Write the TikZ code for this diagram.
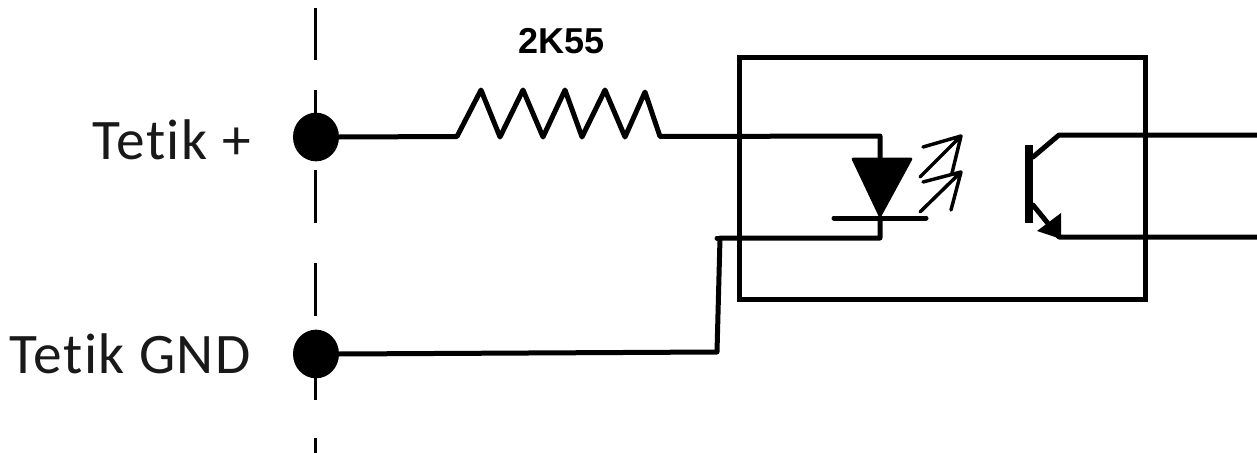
\documentclass[tikz,border=0pt]{standalone}
\usepackage{fontspec}
\setmainfont{Carlito}[Ligatures=NoCommon,LetterSpace=2.6]
\newfontfamily\arialb{Liberation Sans}[Scale=1]
\usetikzlibrary{shapes.geometric}
\tikzset{
  wire/.style={line width=3.75pt,line join=round,line cap=round,black},
  thinw/.style={line width=2.6pt,line join=round,line cap=round},
  dashw/.style={line width=2.6pt},
  term/.style={ellipse,fill=black,minimum width=34.5pt,minimum height=36.5pt,inner sep=0pt},
  lab/.style={font=\fontsize{43pt}{43pt}\selectfont,text=black!90,anchor=base east,inner sep=0pt}
}
\begin{document}
\begin{tikzpicture}[x=0.75pt,y=-0.75pt]
\useasboundingbox (0,0) rectangle (1257,453);
\draw[dashw] (315.5,8)--(315.5,60) (315.5,90)--(315.5,120) (315.5,170)--(315.5,223) (315.5,263)--(315.5,316) (315.5,340)--(315.5,400) (315.5,438)--(315.5,453);
\node[term] (tp) at (316,137) {};
\node[term] (tg) at (316,354) {};
\coordinate (r0) at (457,136.5);
\coordinate (r1) at (660,136.5);
\coordinate (wt) at (880,136);
\coordinate (dk) at (880,218);
\coordinate (a1) at (880,238);
\coordinate (a2) at (720,238);
\coordinate (a3) at (717,352);
\coordinate (ce) at (1257,135);
\coordinate (ee) at (1257,237);
\draw[wire] (tp.east) -- (r0) -- (481,90) -- (500,137) -- (523,90) -- (543,137) -- (565,90) -- (582,137) -- (605,90) -- (625,137) -- (645,92) -- (r1) -- (wt) -- (880,158);
\draw[wire] (tg.east) -- (a3) -- (a2) -- (a1) -- (dk);
\draw[wire] (a2) -- (717,238);
\node[draw=black,line width=3.75pt,minimum width=305pt,minimum height=181pt,inner sep=0pt] (box) at (942.5,178.5) {};
\fill[black,draw=black,line width=2pt,line join=round] (853,159) -- (911,159) -- (880,216) -- cycle;
\draw[wire] (834,218) -- (926,218);
\draw[thinw] (920,177) -- (961,136) (923,147) -- (961,136) -- (952,173);
\draw[thinw] (920,212) -- (961,172) (923,182) -- (961,172) -- (951,210);
\draw[line width=6pt] (1029,145) -- (1029,223);
\draw[wire] (1033,157) -- (1059,135) -- (ce);
\draw[wire] (1033,205) -- (1059,237) -- (ee);
\fill[black] (1061,213) -- (1061,239) -- (1037,231) -- cycle;
\node[lab] (l1) at (251,159) {Tetik +};
\node[lab] (l2) at (251,373) {Tetik GND};
\node[font=\arialb\bfseries\fontsize{27pt}{27pt}\selectfont,inner sep=0pt] (val) at (562,41.5) {2K55};
\end{tikzpicture}
\end{document}
